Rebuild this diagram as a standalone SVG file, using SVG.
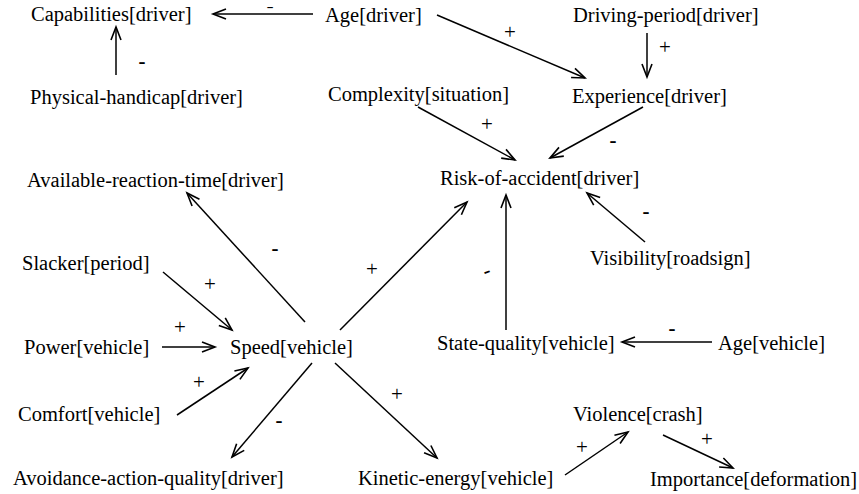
<svg xmlns="http://www.w3.org/2000/svg" width="859" height="494" viewBox="0 0 859 494">
<style>
.t{font-family:"Liberation Serif","Times New Roman",serif;font-size:20.5px;fill:#000}
.l{font-family:"Liberation Serif","Times New Roman",serif;font-size:21px;fill:#000;text-anchor:middle}
.m{font-weight:bold}
.s{font-size:12px}
.e{stroke:#000;stroke-width:1.5;fill:none;marker-end:url(#ah)}
</style>
<defs>
<marker id="ah" markerUnits="userSpaceOnUse" markerWidth="20" markerHeight="16" viewBox="-16 -8 20 16" refX="0" refY="0" orient="auto">
<path d="M-13,-5 L0,0 L-13,5" fill="none" stroke="#000" stroke-width="1.6"/>
</marker>
</defs>
<rect width="859" height="494" fill="#fff"/>
<g id="connectors">
<line class="e" x1="313" y1="14" x2="213" y2="14"/>
<line class="e" x1="116" y1="75" x2="116" y2="27"/>
<line class="e" x1="437" y1="15" x2="585" y2="78"/>
<line class="e" x1="647" y1="33" x2="647" y2="77"/>
<line class="e" x1="418" y1="107" x2="515" y2="160"/>
<line class="e" x1="643" y1="107" x2="550" y2="158"/>
<line class="e" x1="645" y1="242" x2="587" y2="193"/>
<line class="e" x1="506" y1="330" x2="506" y2="195"/>
<line class="e" x1="340" y1="330" x2="467" y2="202"/>
<line class="e" x1="305" y1="322" x2="187" y2="193"/>
<line class="e" x1="163" y1="272" x2="232" y2="330"/>
<line class="e" x1="162" y1="347" x2="215" y2="347"/>
<line class="e" x1="177" y1="415" x2="248" y2="368"/>
<line class="e" x1="312" y1="363" x2="232" y2="457"/>
<line class="e" x1="335" y1="363" x2="437" y2="458"/>
<line class="e" x1="565" y1="475" x2="628" y2="432"/>
<line class="e" x1="663" y1="435" x2="733" y2="468"/>
<line class="e" x1="712" y1="342" x2="622" y2="342"/>
<text class="l m s" transform="translate(270,11) scale(1.8,1)">-</text>
<text class="l m" x="142" y="68">-</text>
<text class="l" x="510" y="39">+</text>
<text class="l" x="665" y="54">+</text>
<text class="l" x="487" y="131">+</text>
<text class="l m" x="613" y="147">-</text>
<text class="l m" x="646" y="218">-</text>
<text class="l m" x="487" y="277" transform="rotate(-20 487 272)">-</text>
<text class="l" x="372" y="276">+</text>
<text class="l m" x="275" y="255">-</text>
<text class="l" x="210" y="291">+</text>
<text class="l" x="180" y="334">+</text>
<text class="l" x="199" y="389">+</text>
<text class="l m" x="279" y="427">-</text>
<text class="l" x="397" y="401">+</text>
<text class="l" x="582" y="454">+</text>
<text class="l" x="707" y="446">+</text>
<text class="l m" x="672" y="335">-</text>
</g>
<g id="capabilities-driver"><text class="t" x="31" y="21">Capabilities[driver]</text></g>
<g id="age-driver"><text class="t" x="325" y="22">Age[driver]</text></g>
<g id="driving-period-driver"><text class="t" x="573" y="22">Driving-period[driver]</text></g>
<g id="physical-handicap-driver"><text class="t" x="30" y="104">Physical-handicap[driver]</text></g>
<g id="complexity-situation"><text class="t" x="328" y="101">Complexity[situation]</text></g>
<g id="experience-driver"><text class="t" x="572" y="103">Experience[driver]</text></g>
<g id="available-reaction-time-driver"><text class="t" x="27" y="187">Available-reaction-time[driver]</text></g>
<g id="risk-of-accident-driver"><text class="t" x="440" y="185">Risk-of-accident[driver]</text></g>
<g id="slacker-period"><text class="t" x="22" y="270">Slacker[period]</text></g>
<g id="visibility-roadsign"><text class="t" x="590" y="265">Visibility[roadsign]</text></g>
<g id="power-vehicle"><text class="t" x="24" y="354">Power[vehicle]</text></g>
<g id="speed-vehicle"><text class="t" x="230" y="354">Speed[vehicle]</text></g>
<g id="state-quality-vehicle"><text class="t" x="437" y="350">State-quality[vehicle]</text></g>
<g id="age-vehicle"><text class="t" x="718" y="350">Age[vehicle]</text></g>
<g id="comfort-vehicle"><text class="t" x="18" y="421">Comfort[vehicle]</text></g>
<g id="violence-crash"><text class="t" x="573" y="421">Violence[crash]</text></g>
<g id="avoidance-action-quality-driver"><text class="t" x="13" y="485">Avoidance-action-quality[driver]</text></g>
<g id="kinetic-energy-vehicle"><text class="t" x="358" y="485">Kinetic-energy[vehicle]</text></g>
<g id="importance-deformation"><text class="t" x="650" y="486">Importance[deformation]</text></g>
</svg>
